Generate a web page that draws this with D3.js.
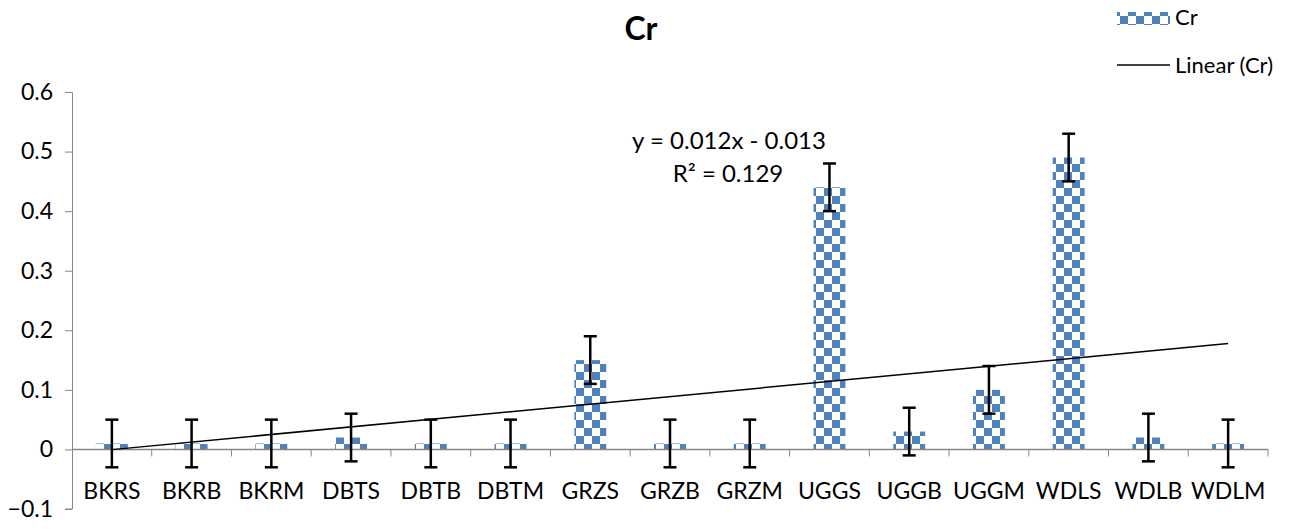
<!DOCTYPE html>
<html>
<head>
<meta charset="utf-8">
<script src="https://cdn.jsdelivr.net/npm/d3@7"></script>
<style>
  body { margin: 0; background: #fff; }
  text { font-family: Lato, "Open Sans", sans-serif; fill: #000; }
</style>
</head>
<body>
<div id="chart-container"></div>
<script>
const categories = ["BKRS", "BKRB", "BKRM", "DBTS", "DBTB", "DBTM", "GRZS", "GRZB", "GRZM", "UGGS", "UGGB", "UGGM", "WDLS", "WDLB", "WDLM"];
const values = [0.01, 0.01, 0.01, 0.02, 0.01, 0.01, 0.15, 0.01, 0.01, 0.44, 0.03, 0.10, 0.49, 0.02, 0.01];
const errors = [0.04, 0.04, 0.04, 0.04, 0.04, 0.04, 0.04, 0.04, 0.04, 0.04, 0.04, 0.04, 0.04, 0.04, 0.04];
const yTicks = [-0.1, 0, 0.1, 0.2, 0.3, 0.4, 0.5, 0.6];
const trendLabel = ["y = 0.012x - 0.013", "R\u00b2 = 0.129"];

const W = 1306, H = 529;
const margin = { top: 92, right: 38, bottom: 20, left: 72 };
const width = W - margin.left - margin.right;
const height = H - margin.top - margin.bottom;
const fontSize = "23px";

const svgRoot = d3.select("#chart-container")
    .append("svg")
    .attr("width", W)
    .attr("height", H);

// checker pattern
const defs = svgRoot.append("defs");
const pat = defs.append("pattern")
    .attr("id", "checker")
    .attr("patternUnits", "userSpaceOnUse")
    .attr("width", 16)
    .attr("height", 16);
pat.append("rect").attr("width", 16).attr("height", 16).attr("fill", "#fff");
pat.append("rect").attr("x", 0).attr("y", 0).attr("width", 8).attr("height", 8).attr("fill", "#4F81BD");
pat.append("rect").attr("x", 8).attr("y", 8).attr("width", 8).attr("height", 8).attr("fill", "#4F81BD");

const svg = svgRoot.append("g")
    .attr("transform", `translate(${margin.left},${margin.top})`);

const x = d3.scaleBand()
    .domain(categories)
    .range([0, width])
    .paddingInner(0.6)
    .paddingOuter(0.3);

const xBand = d3.scaleBand().domain(categories).range([0, width]);

const y = d3.scaleLinear()
    .domain([-0.1, 0.6])
    .range([height, 0]);

// Y axis
const yAxis = svg.append("g")
    .call(d3.axisLeft(y).tickValues(yTicks).tickSize(7).tickPadding(12)
        .tickFormat(d => d === 0 ? "0" : d3.format(".1f")(d)));
yAxis.select(".domain").attr("stroke", "#868686").attr("d", `M-7,0.5H0.5V${height}H-7`);
yAxis.selectAll(".tick line").attr("stroke", "#868686");
yAxis.selectAll("text").style("font-size", fontSize).style("font-family", "Lato, sans-serif").attr("fill", "#000");

// Bars
svg.selectAll(".bar")
    .data(values)
    .enter()
    .append("rect")
    .attr("class", "bar")
    .attr("x", (d, i) => x(categories[i]))
    .attr("width", x.bandwidth())
    .attr("y", d => y(Math.max(0, d)))
    .attr("height", d => Math.abs(y(d) - y(0)))
    .attr("fill", "url(#checker)");

// X axis at zero
const xAxis = svg.append("g")
    .attr("transform", `translate(0,${y(0)})`);
xAxis.append("line")
    .attr("x1", 0).attr("x2", width)
    .attr("stroke", "#868686").attr("stroke-width", 1.5);
xAxis.selectAll(".xt")
    .data(categories)
    .enter()
    .append("line")
    .attr("x1", d => xBand(d) + xBand.bandwidth())
    .attr("x2", d => xBand(d) + xBand.bandwidth())
    .attr("y1", 0).attr("y2", 7)
    .attr("stroke", "#868686");
xAxis.selectAll(".xl")
    .data(categories)
    .enter()
    .append("text")
    .attr("x", d => xBand(d) + xBand.bandwidth() / 2)
    .attr("y", 50)
    .attr("text-anchor", "middle")
    .style("font-size", fontSize)
    .text(d => d);

// Trendline (least squares on values)
const n = values.length;
const xs = values.map((d, i) => i + 1);
const mx = d3.mean(xs), my = d3.mean(values);
const slope = d3.sum(xs, (xi, i) => (xi - mx) * (values[i] - my)) / d3.sum(xs, xi => (xi - mx) ** 2);
const intercept = my - slope * mx;
const cx = i => xBand(categories[i]) + xBand.bandwidth() / 2;
svg.append("line")
    .attr("x1", cx(0)).attr("y1", y(intercept + slope * 1))
    .attr("x2", cx(n - 1)).attr("y2", y(intercept + slope * n))
    .attr("stroke", "#000").attr("stroke-width", 1.5);

// Error bars
const eb = svg.selectAll(".err")
    .data(values)
    .enter()
    .append("g")
    .attr("class", "err")
    .attr("stroke", "#000")
    .attr("stroke-width", 2.5);
eb.append("line")
    .attr("x1", (d, i) => cx(i)).attr("x2", (d, i) => cx(i))
    .attr("y1", (d, i) => y(d + errors[i])).attr("y2", (d, i) => y(d - errors[i]));
eb.append("line")
    .attr("x1", (d, i) => cx(i) - 6.5).attr("x2", (d, i) => cx(i) + 6.5)
    .attr("y1", (d, i) => y(d + errors[i])).attr("y2", (d, i) => y(d + errors[i]));
eb.append("line")
    .attr("x1", (d, i) => cx(i) - 6.5).attr("x2", (d, i) => cx(i) + 6.5)
    .attr("y1", (d, i) => y(d - errors[i])).attr("y2", (d, i) => y(d - errors[i]));

// Trend equation label
svgRoot.append("text")
    .attr("x", 729).attr("y", 149)
    .attr("text-anchor", "middle")
    .style("font-size", "24px")
    .text(trendLabel[0]);
svgRoot.append("text")
    .attr("x", 728).attr("y", 182)
    .attr("text-anchor", "middle")
    .style("font-size", "24px")
    .text(trendLabel[1]);

// Title
svgRoot.append("text")
    .attr("x", 641).attr("y", 40)
    .attr("text-anchor", "middle")
    .style("font-size", "32px")
    .style("font-weight", "bold")
    .text("Cr");

// Legend
const leg = svgRoot.append("g");
leg.append("rect")
    .attr("x", 1117).attr("y", 12).attr("width", 53).attr("height", 13)
    .attr("fill", "url(#checker)");
leg.append("text")
    .attr("x", 1175).attr("y", 25)
    .style("font-size", "22px")
    .text("Cr");
leg.append("line")
    .attr("x1", 1117).attr("x2", 1170).attr("y1", 65).attr("y2", 65)
    .attr("stroke", "#000").attr("stroke-width", 1.5);
leg.append("text")
    .attr("x", 1175).attr("y", 73)
    .style("font-size", "22px")
    .text("Linear (Cr)");
</script>
</body>
</html>
